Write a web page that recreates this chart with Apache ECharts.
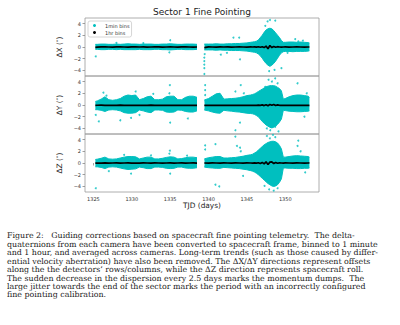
<!DOCTYPE html>
<html><head><meta charset="utf-8">
<script src="https://cdn.jsdelivr.net/npm/echarts@6/dist/echarts.min.js"></script>
<style>html,body{margin:0;padding:0;background:#fff}#c{width:400px;height:325px}</style>
</head><body><div id="c"></div>
<script>
const chartTitle = 'Sector 1 Fine Pointing';
const xName = 'TJD (days)';
const xTicks = [1325, 1330, 1335, 1340, 1345, 1350];
const yTicks = [-4, -2, 0, 2, 4];
const panelNames = ['ΔX (″)', 'ΔY (″)', 'ΔZ (″)'];
const legendNames = ['1min bins', '1hr bins'];

// time grid of the two data segments (TJD)
const tjdA = [1325.25,1325.5,1326,1326.5,1327,1327.5,1328,1328.5,1329,1329.5,1330,1330.5,1331,1331.5,1332,1332.5,1333,1333.5,1334,1334.5,1335,1335.5,1336,1336.5,1337,1337.5,1338,1338.5];
const tjdB = [1339.45,1339.5,1340,1340.5,1341,1341.5,1342,1342.5,1343,1343.5,1344,1344.5,1345,1345.5,1345.75,1346,1346.25,1346.5,1346.75,1347,1347.25,1347.5,1347.75,1348,1348.25,1348.5,1348.75,1349,1349.25,1349.5,1349.75,1350,1350.5,1351,1351.5,1352,1352.5,1353,1353.15];

// 1-min bins: upper / lower envelope of the dense cloud
const dxUpA = [0.45,0.45,0.5,0.5,0.45,0.45,0.5,0.45,0.5,0.55,0.5,0.5,0.45,0.5,0.5,0.5,0.45,0.45,0.5,0.5,0.55,0.5,0.45,0.45,0.5,0.5,0.5,0.45];
const dxLoA = [-0.4,-0.4,-0.45,-0.45,-0.4,-0.4,-0.45,-0.4,-0.45,-0.45,-0.45,-0.45,-0.4,-0.45,-0.45,-0.45,-0.4,-0.4,-0.45,-0.45,-0.5,-0.45,-0.4,-0.4,-0.45,-0.45,-0.45,-0.4];
const dxUpB = [0.5,0.5,0.5,0.5,0.55,0.5,0.5,0.55,0.55,0.6,0.6,0.65,0.7,0.8,0.85,0.9,1.0,1.2,1.6,2.0,2.5,2.9,3.1,3.2,3.1,2.8,2.4,2.0,1.6,1.1,0.8,0.8,0.85,0.85,0.8,0.85,0.8,0.75,0.7];
const dxLoB = [-0.5,-0.5,-0.5,-0.5,-0.55,-0.5,-0.55,-0.55,-0.6,-0.6,-0.6,-0.65,-0.7,-0.8,-0.85,-0.9,-1.0,-1.2,-1.5,-1.9,-2.4,-2.8,-3.1,-3.3,-3.1,-2.8,-2.4,-1.9,-1.4,-1.0,-0.8,-0.75,-0.75,-0.8,-0.75,-0.75,-0.75,-0.7,-0.65];

const dyUpA = [0.6,0.7,1.0,1.4,0.9,0.8,0.9,1.1,1.5,1.7,1.6,1.7,0.9,1.1,1.4,1.5,0.9,0.9,1.0,1.4,1.5,1.5,0.9,0.9,1.3,1.5,1.5,1.3];
const dyLoA = [-0.8,-0.8,-0.9,-1.1,-0.85,-0.8,-0.85,-1.0,-1.3,-1.4,-1.4,-1.3,-0.85,-1.0,-1.2,-1.3,-0.85,-0.85,-0.9,-1.2,-1.25,-1.2,-0.85,-0.9,-1.1,-1.2,-1.2,-1.0];
const dyUpB = [0.85,0.85,1.1,1.5,1.9,2.0,1.0,1.05,1.1,1.15,1.25,1.4,1.6,1.7,1.8,1.9,2.1,2.3,2.5,2.7,2.9,3.1,3.2,3.3,3.3,3.3,3.2,3.0,2.8,2.4,1.0,1.1,1.4,1.6,1.7,1.7,1.6,1.5,1.3];
const dyLoB = [-0.85,-0.85,-1.0,-1.2,-1.35,-1.4,-0.9,-1.0,-1.05,-1.15,-1.2,-1.3,-1.4,-1.45,-1.5,-1.6,-1.8,-2.0,-2.4,-2.8,-3.1,-3.4,-3.6,-3.8,-3.9,-3.8,-3.6,-3.3,-2.9,-2.4,-0.9,-0.95,-1.05,-1.1,-1.15,-1.15,-1.1,-1.05,-1.0];

const dzUpA = [0.6,0.65,0.8,1.0,0.7,0.65,0.7,0.85,1.0,1.1,1.1,1.05,0.7,0.85,1.0,1.0,0.7,0.7,0.8,0.95,1.05,1.0,0.7,0.75,0.9,1.0,1.0,0.9];
const dzLoA = [-0.65,-0.65,-0.75,-0.95,-0.7,-0.65,-0.7,-0.85,-1.0,-1.1,-1.05,-1.0,-0.7,-0.8,-0.95,-0.95,-0.7,-0.7,-0.75,-0.9,-0.95,-0.9,-0.7,-0.7,-0.85,-0.9,-0.9,-0.8];
const dzUpB = [0.7,0.7,0.9,1.0,1.1,1.1,0.85,0.85,0.9,0.95,1.05,1.15,1.3,1.4,1.5,1.7,1.9,2.2,2.5,2.8,3.1,3.3,3.5,3.6,3.7,3.7,3.6,3.4,3.0,2.4,1.0,1.0,1.1,1.2,1.25,1.2,1.15,1.1,1.0];
const dzLoB = [-0.7,-0.7,-0.8,-0.85,-0.9,-0.9,-0.75,-0.8,-0.85,-0.9,-0.95,-1.05,-1.15,-1.3,-1.4,-1.55,-1.75,-2.0,-2.3,-2.6,-2.9,-3.2,-3.5,-3.7,-3.9,-4.0,-3.9,-3.7,-3.3,-2.7,-0.85,-0.85,-0.9,-0.9,-0.95,-0.95,-0.9,-0.9,-0.85];

// 1-min bins: isolated outlying points [TJD, value]
const dxOut = [[1325.3,-1.6],[1335.0,1.15],[1334.9,-0.9],[1328.0,0.7],[1331.5,0.65],[1339.45,-1.8],[1339.45,-2.4],[1339.45,-3.0],[1339.45,-3.6],[1339.45,-4.6],[1339.5,-1.2],[1343.25,1.6],[1344.0,1.6],[1342.4,-1.0],[1344.1,-2.1],[1341.6,-1.3],[1347.7,4.35],[1348.0,4.6],[1348.7,4.5],[1347.4,3.6],[1347.9,-4.1],[1348.6,-3.9],[1349.5,-3.6],[1351.3,1.35],[1351.7,0.95],[1350.3,-1.0],[1352.3,1.1]];
const dyOut = [[1326.3,2.1],[1326.7,1.6],[1332.8,1.9],[1334.9,2.0],[1334.96,3.4],[1325.7,-2.8],[1328.5,-2.6],[1329.9,-2.2],[1335.0,-3.0],[1337.3,-2.3],[1325.3,-1.7],[1331.0,-1.7],[1330.5,2.3],[1339.56,2.55],[1339.56,3.4],[1339.56,1.7],[1344.2,3.4],[1344.6,2.0],[1343.5,2.3],[1344.1,-3.0],[1343.5,-4.3],[1351.6,3.7],[1352.8,2.0],[1352.5,-2.0],[1347.82,4.3],[1348.26,4.0],[1348.69,4.55],[1349.0,3.7],[1347.39,3.1],[1348.04,-4.3],[1348.69,-3.7],[1349.12,-4.5],[1347.6,-4.0]];
const dzOut = [[1325.3,-4.3],[1334.96,2.1],[1334.9,1.6],[1329.0,1.4],[1329.9,-1.8],[1335.0,-1.8],[1337.2,1.25],[1327.0,-1.4],[1332.5,1.3],[1339.56,3.0],[1339.56,2.3],[1340.9,3.2],[1343.5,4.5],[1343.7,2.9],[1344.1,2.6],[1344.2,2.0],[1340.9,-3.7],[1341.4,-4.0],[1351.6,2.9],[1351.7,3.8],[1352.0,2.0],[1352.6,-1.6],[1344.5,-2.2],[1347.6,4.6],[1348.0,4.2],[1348.4,4.8],[1348.7,4.4],[1347.9,-4.5],[1348.5,-4.7],[1349.0,-4.3],[1347.3,-3.9]];

// 1-hr bins (mean level)
const dxBinA = [-0.05,-0.02,0.01,0.02,0.0,-0.02,0.01,0.02,0.0,-0.03,0.01,0.02,0.0,0.01,-0.02,0.0,0.02,0.01,-0.02,0.0,0.03,0.0,-0.02,0.01,0.02,0.0,-0.02,0.0];
const dxBinB = [-0.1,0.0,0.02,0.0,-0.02,0.01,0.0,0.02,-0.01,0.0,0.02,0.0,-0.02,0.01,0.0,0.03,-0.02,0.05,-0.05,0.05,-0.1,0.15,-0.3,0.25,-0.1,0.1,-0.05,0.05,0.0,-0.03,0.0,0.01,-0.02,0.0,0.02,0.0,-0.01,0.0,0.0];
const dyBinA = [-0.05,-0.04,-0.03,-0.05,-0.06,-0.04,-0.05,-0.03,-0.05,-0.06,-0.04,-0.05,-0.06,-0.04,-0.05,-0.03,-0.05,-0.06,-0.04,-0.05,-0.07,-0.05,-0.04,-0.06,-0.05,-0.04,-0.06,-0.05];
const dyBinB = [-0.05,-0.05,-0.04,-0.06,-0.05,-0.04,-0.06,-0.05,-0.04,-0.06,-0.05,-0.04,-0.06,-0.05,-0.04,-0.05,-0.06,-0.03,-0.07,0.02,-0.1,0.05,-0.12,0.08,-0.05,0.1,-0.08,0.02,-0.05,-0.06,-0.05,-0.04,-0.06,-0.05,-0.04,-0.06,-0.05,-0.07,-0.05];
const dzBinA = [-0.02,0.0,-0.01,0.01,-0.02,0.0,0.01,-0.01,0.0,0.02,-0.01,0.0,-0.02,0.01,0.0,-0.01,0.02,0.0,-0.01,0.0,0.01,-0.02,0.0,0.01,-0.01,0.0,0.01,-0.01];
const dzBinB = [0.0,0.0,-0.02,0.01,0.0,-0.02,0.01,0.0,-0.01,0.02,0.0,-0.01,0.01,0.0,-0.02,0.02,-0.03,0.05,-0.08,0.1,-0.15,0.2,-0.25,0.15,0.2,-0.1,0.1,-0.05,0.03,0.0,-0.01,0.01,0.0,-0.01,0.02,0.0,-0.01,0.0,0.01];

const captionLines = [
  'Figure 2:   Guiding corrections based on spacecraft fine pointing telemetry.  The delta-',
  'quaternions from each camera have been converted to spacecraft frame, binned to 1 minute',
  'and 1 hour, and averaged across cameras. Long-term trends (such as those caused by differ-',
  'ential velocity aberration) have also been removed. The ΔX/ΔY directions represent offsets',
  'along the the detectors’ rows/columns, while the ΔZ direction represents spacecraft roll.',
  'The sudden decrease in the dispersion every 2.5 days marks the momentum dumps.  The',
  'large jitter towards the end of the sector marks the period with an incorrectly configured',
  'fine pointing calibration.'
];

const CYAN = '#00bfbf';
const FONT = 'DejaVu Sans';
const pair = (xs, ys) => xs.map((x, i) => [x, ys[i]]);

const panels = [
  {up: [dxUpA, dxUpB], lo: [dxLoA, dxLoB], out: dxOut, bin: [dxBinA, dxBinB]},
  {up: [dyUpA, dyUpB], lo: [dyLoA, dyLoB], out: dyOut, bin: [dyBinA, dyBinB]},
  {up: [dzUpA, dzUpB], lo: [dzLoA, dzLoB], out: dzOut, bin: [dzBinA, dzBinB]}
];

const grids = [], xAxes = [], yAxes = [], series = [];
panels.forEach((p, k) => {
  grids.push({left: 85, width: 234, top: 18 + 58 * k, height: 58, show: true,
    borderColor: '#9a9a9a', borderWidth: 0.8, backgroundColor: 'transparent'});
  const last = k === 2;
  xAxes.push({type: 'value', gridIndex: k, min: 1323.9, max: 1354.4,
    splitLine: {show: false}, axisLine: {show: false},
    axisTick: {show: last, length: 2.5, lineStyle: {color: '#888', width: 0.8}, customValues: xTicks},
    axisLabel: {show: last, fontSize: 5, color: '#333', fontFamily: FONT, margin: 4, customValues: xTicks,
      formatter: v => String(v)},
    name: last ? xName : '', nameLocation: 'middle', nameGap: 10,
    nameTextStyle: {fontSize: 7.4, color: '#222', fontFamily: FONT}});
  yAxes.push({type: 'value', gridIndex: k, min: -4.94, max: 4.94,
    splitLine: {show: false}, axisLine: {show: false},
    axisTick: {show: true, length: 2.5, lineStyle: {color: '#888', width: 0.8}, customValues: yTicks},
    axisLabel: {fontSize: 5, color: '#333', fontFamily: FONT, margin: 4, customValues: yTicks,
      formatter: v => v < 0 ? '−' + Math.abs(v) : String(v)},
    name: panelNames[k], nameLocation: 'middle', nameGap: 14,
    nameTextStyle: {fontSize: 7.4, color: '#222', fontFamily: FONT}});
  [[tjdA, 0], [tjdB, 1]].forEach(([xs, s]) => {
    [p.up[s], p.lo[s]].forEach(ys => {
      series.push({type: 'line', name: legendNames[0], xAxisIndex: k, yAxisIndex: k,
        data: pair(xs, ys), symbol: 'none', smooth: false, silent: true, z: 2,
        lineStyle: {color: CYAN, width: 1}, areaStyle: {color: CYAN, opacity: 1}});
    });
    series.push({type: 'line', name: legendNames[1], xAxisIndex: k, yAxisIndex: k,
      data: pair(xs, p.bin[s]), symbol: 'none', silent: true, z: 4,
      lineStyle: {color: '#000', width: 1.7}});
  });
  series.push({type: 'scatter', name: legendNames[0], xAxisIndex: k, yAxisIndex: k,
    data: p.out, symbol: 'circle', symbolSize: 2, silent: true, z: 3,
    itemStyle: {color: CYAN}});
});

const chart = echarts.init(document.getElementById('c'), null, {renderer: 'svg', width: 400, height: 325});
chart.setOption({
  animation: false,
  backgroundColor: '#fff',
  textStyle: {fontFamily: FONT},
  title: {text: chartTitle, left: 202, top: 7, textAlign: 'center', padding: 0,
    textStyle: {fontSize: 9, fontWeight: 'normal', color: '#222', fontFamily: FONT}},
  legend: {data: [{name: legendNames[0], icon: 'circle', itemStyle: {color: CYAN}},
                  {name: legendNames[1], icon: 'circle', itemStyle: {color: '#000'}}],
    orient: 'vertical', left: 88, top: 21, itemWidth: 3, itemHeight: 3, itemGap: 2,
    padding: [2, 2, 2, 5], borderColor: '#ccc', borderWidth: 0.8, borderRadius: 2,
    backgroundColor: 'rgba(255,255,255,0.85)', selectedMode: false,
    textStyle: {fontSize: 5, color: '#333', fontFamily: FONT, padding: [0, 0, 0, 4]}},
  grid: grids, xAxis: xAxes, yAxis: yAxes, series: series,
  graphic: captionLines.map((t, i) => ({type: 'text', x: 7, y: 235.7 + i * 8.47, silent: true,
    style: {text: t, fontSize: 7.9, fontFamily: 'DejaVu Serif', fill: '#1a1a1a', verticalAlign: 'middle', align: 'left'}}))
});
</script></body></html>
